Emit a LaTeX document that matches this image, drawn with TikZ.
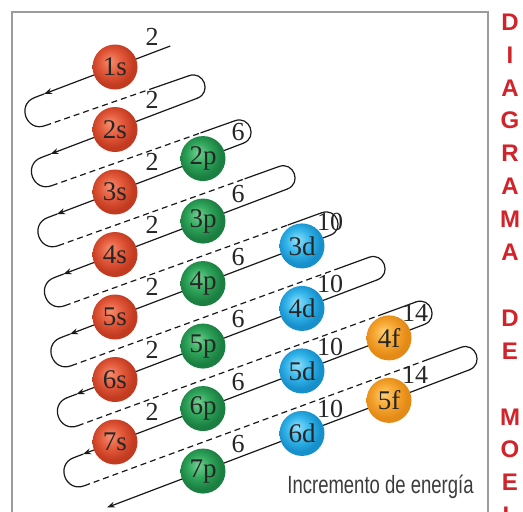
\documentclass[tikz,border=0pt]{standalone}
\usepackage{fontspec}
\usepackage{graphicx}
\setmainfont{Liberation Serif}
\setsansfont{Liberation Sans}
\usetikzlibrary{calc,arrows.meta}
\definecolor{redL}{HTML}{F58D6E}
\definecolor{redM}{HTML}{E2583A}
\definecolor{redD}{HTML}{C23A20}
\definecolor{grnL}{HTML}{74CF92}
\definecolor{grnM}{HTML}{2FA55B}
\definecolor{grnD}{HTML}{1B7F41}
\definecolor{cyaL}{HTML}{92DFF9}
\definecolor{cyaM}{HTML}{35B6EB}
\definecolor{cyaD}{HTML}{168FCB}
\definecolor{orgL}{HTML}{FDCF72}
\definecolor{orgM}{HTML}{F6A530}
\definecolor{orgD}{HTML}{E48A16}
\definecolor{lettered}{HTML}{D2232A}
\definecolor{framegray}{HTML}{9C9C9C}
\definecolor{txtgray}{HTML}{3C3C3C}
\pgfdeclareradialshading{ballred}{\pgfpoint{-6bp}{7bp}}{color(0bp)=(redL); color(13bp)=(redM); color(24bp)=(redD); color(50bp)=(redD)}
\pgfdeclareradialshading{ballgrn}{\pgfpoint{-6bp}{7bp}}{color(0bp)=(grnL); color(13bp)=(grnM); color(24bp)=(grnD); color(50bp)=(grnD)}
\pgfdeclareradialshading{ballcya}{\pgfpoint{-6bp}{7bp}}{color(0bp)=(cyaL); color(13bp)=(cyaM); color(24bp)=(cyaD); color(50bp)=(cyaD)}
\pgfdeclareradialshading{ballorg}{\pgfpoint{-6bp}{7bp}}{color(0bp)=(orgL); color(13bp)=(orgM); color(24bp)=(orgD); color(50bp)=(orgD)}
\begin{document}
\begin{tikzpicture}[x=1pt,y=-1pt,
  ln/.style={line width=1.2pt, line cap=round, black!90},
  dsh/.style={line width=1.2pt, black!90, dash pattern=on 6pt off 4pt},
  arr/.style={ln, -{Stealth[length=8pt,width=6pt]}},
  orb/.style={circle, minimum size=45pt, inner sep=0pt, shade, font=\fontsize{27}{29}\selectfont, text=black!85},
  cnt/.style={font=\fontsize{26}{28}\selectfont, text=black!85, inner sep=0pt},
  letter/.style={font=\sffamily\bfseries\fontsize{24}{26}\selectfont, text=lettered, inner sep=0pt}
]
\useasboundingbox (0,0) rectangle (523,512);
\fill[white] (0,0) rectangle (523,512);
% frame
\draw[framegray, line width=2pt] (12,520) -- (12,12) -- (488,12) -- (488,520);

% geometry
\coordinate (T1) at (170,46.1);
\coordinate (Z8) at (107,507.5);
\foreach \k in {1,...,7}{
  \pgfmathsetmacro\xa{25+6.5*(\k-1)+9.68}
  \pgfmathsetmacro\ya{67+62.5*(\k-1)+0.38*(115-\xa)}
  \coordinate (A\k) at (\xa,\ya);
  \coordinate (B\k) at (\xa+10.65,\ya+28.05);
  \coordinate (H\k) at (\xa+9.35,\ya-3.55);
}
\foreach \k/\xr in {1/205,2/251,3/295,4/338,5/385,6/432,7/477}{
  \pgfmathsetmacro\xf{\xr-7.74}
  \pgfmathsetmacro\yf{67+62.5*\k+0.38*(115-\xf)}
  \coordinate (F\k) at (\xf,\yf);
  \coordinate (E\k) at (\xf-8.52,\yf-22.44);
}

% solid diagonals with arrows
\draw[arr] (T1) -- (H1);
\draw[ln] (H1) -- (A1);
\foreach \j/\k in {1/2,2/3,3/4,4/5,5/6,6/7}{
  \draw[arr] (F\j) -- (H\k);
  \draw[ln] (H\k) -- (A\k);
}
\draw[arr] (F7) -- (Z8);

% left turns
\foreach \k in {1,...,7}{
  \draw[ln] (A\k) .. controls ($(A\k)+(-18.7,7.1)$) and ($(B\k)+(-18.7,7.1)$) .. (B\k);
}
% right turns
\foreach \k in {1,...,7}{
  \draw[ln] (E\k) .. controls ($(E\k)+(14.96,-5.68)$) and ($(F\k)+(14.96,-5.68)$) .. (F\k);
}
% return lines
\foreach \k in {1,...,7}{
  \coordinate (S\k) at ($(E\k)!36pt!(B\k)$);
  \draw[dsh] (B\k) -- (S\k);
  \draw[ln] (S\k) -- (E\k);
}

% orbitals
\foreach \n in {1,...,7}
  \node[orb, shading=ballred] (s\n) at (115,{67+62.5*(\n-1)}) {{\n}s};
\foreach \n in {2,...,7}
  \node[orb, shading=ballgrn] (p\n) at (203,{67+62.5*\n-33.44}) {{\n}p};
\foreach \n in {3,...,6}
  \node[orb, shading=ballcya] (d\n) at (302,{67+62.5*(\n+1)-71.06}) {{\n}d};
\foreach \n in {4,5}
  \node[orb, shading=ballorg] (f\n) at (389,{67+62.5*(\n+2)-104.12}) {{\n}f};

% capacities
\foreach \n in {1,...,7}
  \node[cnt] (cs\n) at (152,{37+62.5*(\n-1)}) {2};
\foreach \n in {2,...,7}
  \node[cnt] (cp\n) at (238,{6.56+62.5*\n}) {6};
\foreach \n in {3,...,6}
  \node[cnt] (cd\n) at (330,{-28.06+62.5*(\n+1)}) {10};
\foreach \n in {4,5}
  \node[cnt] (cf\n) at (415,{-62.12+62.5*(\n+2)}) {14};

% caption
\node[font=\sffamily\fontsize{25}{28}\selectfont, text=txtgray, anchor=base, inner sep=0pt] (inc) at (380.5,493) {\scalebox{0.74}[1]{Incremento de energía}};

% vertical title
\foreach \i/\c in {0/D,1/I,2/A,3/G,4/R,5/A,6/M,7/A,9/D,10/E,12/M,13/O,14/E,15/L}
  \node[letter] (t\i) at (510,{22+32.9*\i}) {\c};
\end{tikzpicture}
\end{document}
